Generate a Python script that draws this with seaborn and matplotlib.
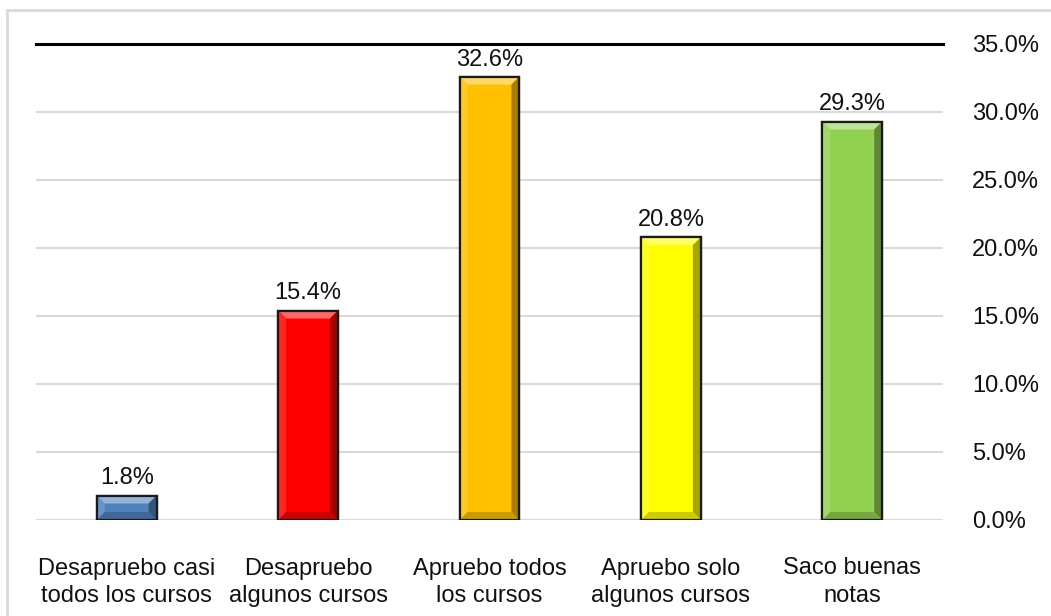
import matplotlib
matplotlib.use("Agg")
import matplotlib.pyplot as plt
import seaborn as sns
import pandas as pd
from matplotlib.patches import Polygon, Rectangle
from matplotlib.colors import to_rgb

categories = ["Desapruebo casi\ntodos los cursos", "Desapruebo\nalgunos cursos",
              "Apruebo todos\nlos cursos", "Apruebo solo\nalgunos cursos", "Saco buenas\nnotas"]
values = [1.8, 15.4, 32.6, 20.8, 29.3]
colors = ["#4F81BD", "#FF0000", "#FFC000", "#FFFF00", "#92D050"]
yticks = [0, 5, 10, 15, 20, 25, 30, 35]

sns.set_theme(style="white")
plt.rcParams['font.family'] = ['Liberation Sans', 'DejaVu Sans']

fig = plt.figure(figsize=(10.51, 6.16), dpi=100)
ax = fig.add_axes([36/1051, 96/616, (943-36)/1051, (520-44)/616])

df = pd.DataFrame({"cat": categories, "val": values})
sns.barplot(data=df, x="cat", y="val", hue="cat", palette=colors, dodge=False, saturation=1,
            legend=False, width=0.33, edgecolor="#1a1a1a", linewidth=1.6, ax=ax, zorder=3)

ax.set_ylim(0, 35)
ax.set_xlim(-0.5, len(categories) - 0.5)
ax.set_yticks(yticks)
ax.set_yticklabels([f"{t:.1f}%" for t in yticks], fontsize=17, color="#111111")
ax.yaxis.tick_right()
ax.tick_params(axis="y", length=0, pad=21)
ax.tick_params(axis="x", length=0, pad=27, labelsize=17, labelcolor="#111111")
for lbl in ax.get_yticklabels():
    lbl.set_horizontalalignment("left")
for lbl in ax.get_xticklabels():
    lbl.set_linespacing(1.3)
ax.set_xlabel("")
ax.set_ylabel("")
ax.yaxis.grid(True, color="#D9D9D9", linewidth=1.5, zorder=0)
ax.set_axisbelow(True)
for s in ["left", "right", "bottom"]:
    ax.spines[s].set_visible(False)
ax.spines["top"].set_color("black")
ax.spines["top"].set_linewidth(2.2)
ax.spines["top"].set_zorder(2)

# bevel effect derived from bar patches
bx = 8 / 181.4
by = 8 / 13.6
for p in ax.patches:
    x0, w, h = p.get_x(), p.get_width(), p.get_height()
    x1 = x0 + w
    base = to_rgb(p.get_facecolor())
    light = tuple(min(1, c * 0.6 + 0.4) for c in base)
    dark = tuple(c * 0.65 for c in base)
    byy = min(by, h / 2)
    poly = [
        ([(x0, h), (x1, h), (x1 - bx, h - byy), (x0 + bx, h - byy)], light),
        ([(x0, 0), (x0, h), (x0 + bx, h - byy), (x0 + bx, byy)], tuple(min(1, c * 0.85 + 0.15) for c in base)),
        ([(x1, 0), (x1, h), (x1 - bx, h - byy), (x1 - bx, byy)], dark),
        ([(x0, 0), (x1, 0), (x1 - bx, byy), (x0 + bx, byy)], tuple(c * 0.8 for c in base)),
    ]
    for pts, col in poly:
        ax.add_patch(Polygon(pts, closed=True, facecolor=col, edgecolor="none", zorder=3.5))
    ax.add_patch(Rectangle((x0, 0), w, h, fill=False, edgecolor="#1a1a1a", linewidth=1.6, zorder=4))

for i, v in enumerate(values):
    ax.text(i, v + 0.45, f"{v:.1f}%", ha="center", va="bottom", fontsize=17, color="#111111", zorder=5)

fig.patches.append(Rectangle((7/1051, -0.05), 1.1, 1 - 10/616 + 0.05, transform=fig.transFigure,
                             fill=False, edgecolor="#D9D9D9", linewidth=2))

fig.savefig("out.png", dpi=100)
